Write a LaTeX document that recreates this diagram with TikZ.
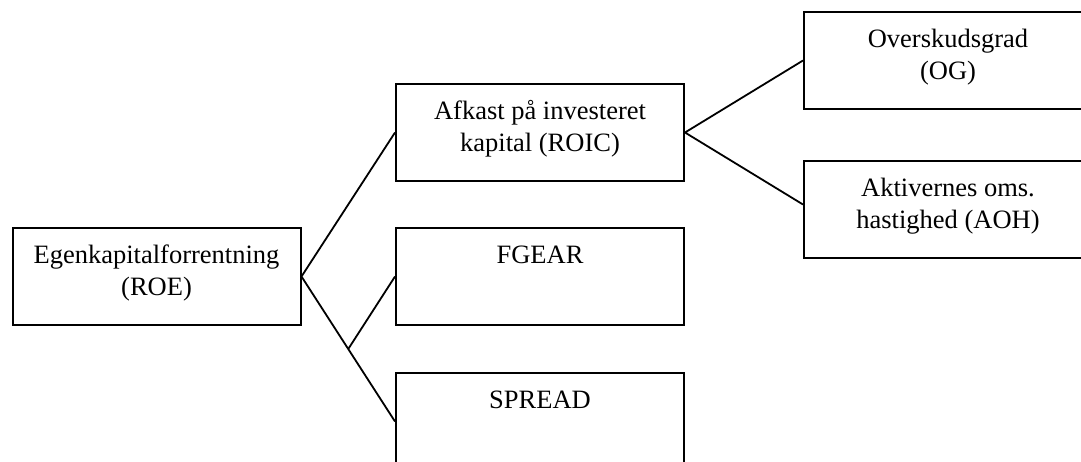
\documentclass[tikz,border=0pt]{standalone}
\usepackage{fontspec}
\setmainfont{Liberation Serif}
\usetikzlibrary{calc}
\begin{document}
\begin{tikzpicture}[x=1pt,y=-1pt,
  box/.style={draw,line width=2pt,minimum width=288pt,minimum height=97pt,inner sep=0pt},
  lbl/.style={anchor=north,inner sep=0pt,align=center,font=\fontsize{26.5}{32}\selectfont},
  conn/.style={line width=1.8pt}]
\clip (0,0) rectangle (1081,461);
\fill[white] (0,0) rectangle (1081,461);
\node[box] (roe) at (156.5,276.5) {};
\node[box] (roic) at (540,132.5) {};
\node[box] (fgear) at (540,276.5) {};
\node[box] (spread) at (540,421.5) {};
\node[box] (og) at (948,60.5) {};
\node[box] (aoh) at (948,209.5) {};
\node[lbl] (roet) at ([yshift=-14pt]roe.north) {\rule{0pt}{22pt}Egenkapitalforrentning\\(ROE)};
\node[lbl] (roict) at ([yshift=-14pt]roic.north) {\rule{0pt}{22pt}Afkast på investeret\\kapital (ROIC)};
\node[lbl] (fgeart) at ([yshift=-14pt]fgear.north) {\rule{0pt}{22pt}FGEAR};
\node[lbl] (spreadt) at ([yshift=-14pt]spread.north) {\rule{0pt}{22pt}SPREAD};
\node[lbl] (ogt) at ([yshift=-14pt]og.north) {\rule{0pt}{22pt}Overskudsgrad\\(OG)};
\node[lbl] (aoht) at ([yshift=-14pt]aoh.north) {\rule{0pt}{22pt}Aktivernes oms.\\hastighed (AOH)};
\coordinate (mid) at ($(roe.east)!0.5!(spread.west)$);
\draw[conn] (roic.west) -- (roe.east) -- (spread.west);
\draw[conn] (fgear.west) -- (mid);
\draw[conn] (og.west) -- (roic.east) -- ([yshift=5pt]aoh.west);
\end{tikzpicture}
\end{document}
